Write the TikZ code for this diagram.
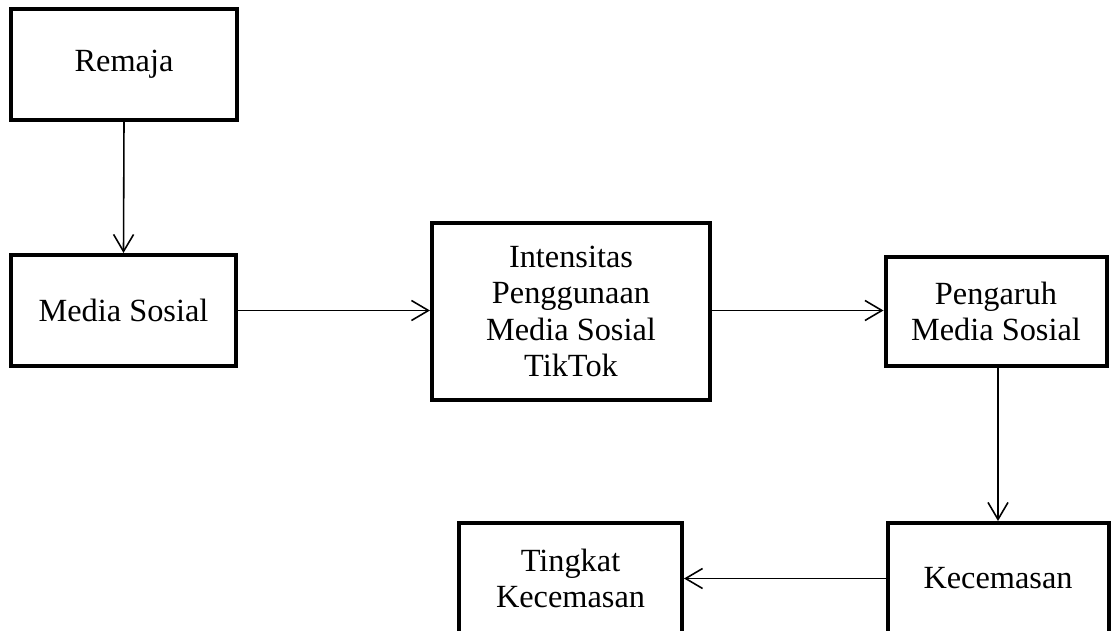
\documentclass[tikz,border=0pt]{standalone}
\usepackage{fontspec}
\setmainfont{Liberation Serif}
\usetikzlibrary{arrows.meta}

\begin{document}
\begin{tikzpicture}[>={Straight Barb[length=0.34cm, width=0.4cm]},
  kotak/.style={draw, line width=0.08cm, align=center, inner sep=0pt,
    font=\fontsize{18.4}{20.8}\selectfont},
  panah/.style={->, line width=0.9pt}]

  % === Frame of the picture ===
  \useasboundingbox (0, 0) rectangle (22.22, -12.62);

  % === Boxes ===
  \node[kotak, minimum width=4.52cm, minimum height=2.22cm] (remaja) at (2.48, -1.29) {Remaja};
  \node[kotak, minimum width=4.5cm, minimum height=2.22cm] (medsos) at (2.47, -6.21) {Media Sosial};
  \node[kotak, minimum width=5.56cm, minimum height=3.54cm] (intensitas) at (11.42, -6.23)
    {Intensitas\\Penggunaan\\Media Sosial\\TikTok};
  \node[kotak, minimum width=4.42cm, minimum height=2.18cm] (pengaruh) at (19.92, -6.23)
    {Pengaruh\\Media Sosial};
  \node[kotak, minimum width=4.42cm, minimum height=2.22cm] (kecemasan) at (19.96, -11.57) {Kecemasan};
  \node[kotak, minimum width=4.46cm, minimum height=2.22cm] (tingkat) at (11.41, -11.57)
    {Tingkat\\Kecemasan};

  % === Arrows ===
  \draw[panah] (remaja.south) -- (medsos.north);
  \draw[panah] (medsos.east) -- (medsos.east -| intensitas.west);
  \draw[panah] (medsos.east -| intensitas.east) -- (medsos.east -| pengaruh.west);
  \draw[panah] (kecemasan.north |- pengaruh.south) -- (kecemasan.north);
  \draw[panah] (kecemasan.west) -- (tingkat.east);

\end{tikzpicture}
\end{document}
